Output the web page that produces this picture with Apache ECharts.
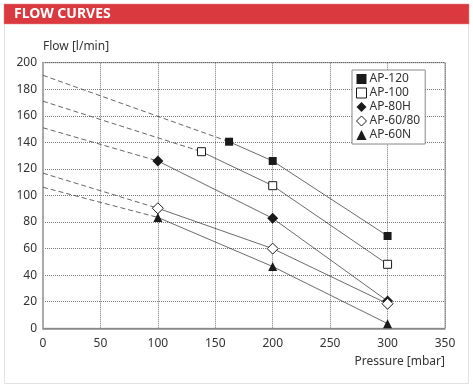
<!DOCTYPE html>
<html><head><meta charset="utf-8">
<script src="https://cdn.jsdelivr.net/npm/echarts@6/dist/echarts.min.js"></script>
<style>html,body{margin:0;padding:0;background:#fff}#c{width:473px;height:389px}</style>
</head><body><div id="c"></div>
<script>
var title = 'FLOW CURVES';
var seriesNames = ['AP-120', 'AP-100', 'AP-80H', 'AP-60/80', 'AP-60N'];
var xTicks = [0, 50, 100, 150, 200, 250, 300, 350];
var yTicks = [0, 20, 40, 60, 80, 100, 120, 140, 160, 180, 200];
// measured points [pressure, flow]
var ap120 = [[162, 140.5], [200, 126], [300, 69.5]];
var ap100 = [[138, 133], [200, 107.4], [300, 48.2]];
var ap80h = [[100, 126], [200, 82.8], [300, 20.5]];
var ap6080 = [[100, 90.4], [200, 60], [300, 18.5]];
var ap60n = [[100, 83.5], [200, 46.5], [300, 3.5]];
// dashed extrapolation start values at pressure 0
var dashStart = [190.5, 171, 151, 116.8, 106.2];

var symbols = ['rect', 'rect', 'diamond', 'diamond', 'triangle'];
var filled = [true, false, true, false, true];
var sizes = [8, 8, 11, 11, 9];
var solidData = [ap120, ap100, ap80h, ap6080, ap60n];

var font = 'Noto Sans';
var series = [];
seriesNames.forEach(function (n, i) {
  var d = solidData[i];
  series.push({
    name: n + ' ext', type: 'line', silent: true, symbol: 'none',
    data: [[0, dashStart[i]], d[0]],
    lineStyle: {color: '#555', width: 0.9, type: [5, 3]}, z: 1
  });
});
seriesNames.forEach(function (n, i) {
  series.push({
    name: n, type: 'line', data: solidData[i],
    symbol: symbols[i], symbolSize: sizes[i],
    itemStyle: {color: filled[i] ? '#1a1a1a' : '#fff', borderColor: '#1a1a1a', borderWidth: filled[i] ? 0 : 1},
    lineStyle: {color: '#444', width: 0.8}, z: 3
  });
});

var chart = echarts.init(document.getElementById('c'), null, {renderer: 'canvas'});
chart.setOption({
  animation: false,
  textStyle: {fontFamily: font},
  graphic: [
    {type: 'rect', shape: {x: 4.5, y: 4.5, width: 464, height: 379}, style: {fill: '#fff', stroke: '#e2e2e2', lineWidth: 1}, z: -10},
    {type: 'rect', shape: {x: 4, y: 4, width: 465, height: 20}, style: {fill: '#d9393f', stroke: '#e88a8e', lineWidth: 0.5}, z: -5},
    {type: 'text', left: 14, top: 7, style: {text: title, fill: '#fff', font: 'bold 14px "' + font + '"'}}
  ],
  grid: {left: 43, right: 28, top: 62.7, bottom: 60.7, show: true, borderColor: '#999', borderWidth: 1},
  legend: {
    data: seriesNames.map(function (n, i) {
      return {name: n, icon: symbols[i],
        itemStyle: {color: filled[i] ? '#1a1a1a' : '#fff', borderColor: '#1a1a1a', borderWidth: filled[i] ? 0 : 1}};
    }),
    orient: 'vertical', left: 352, top: 70, padding: [3, 5, 3, 4], itemGap: 2,
    itemWidth: 10, itemHeight: 10, backgroundColor: '#fff', borderColor: '#888', borderWidth: 1,
    textStyle: {fontSize: 12, color: '#333', fontFamily: font, padding: [0, 0, 0, -2]}
  },
  xAxis: {
    type: 'value', min: 0, max: 350, interval: 50,
    name: 'Pressure [mbar]', nameLocation: 'end', nameGap: 0,
    nameTextStyle: {align: 'right', verticalAlign: 'top', padding: [27, 0, 0, 0], fontSize: 12, color: '#333'},
    axisLine: {show: true, lineStyle: {color: '#888', width: 1.5}},
    axisTick: {show: false},
    axisLabel: {fontSize: 12, color: '#333', margin: 9, formatter: function (v) { return xTicks.indexOf(v) >= 0 ? v : ''; }},
    splitLine: {show: true, lineStyle: {color: '#555', width: 0.8, type: [1, 1]}}
  },
  yAxis: {
    type: 'value', min: 0, max: 200, interval: 20,
    name: 'Flow [l/min]', nameLocation: 'end', nameGap: 10,
    nameTextStyle: {align: 'left', fontSize: 12, color: '#333'},
    axisLine: {show: true, lineStyle: {color: '#aaa', width: 2}},
    axisTick: {show: false},
    axisLabel: {fontSize: 12, color: '#333', margin: 6, formatter: function (v) { return yTicks.indexOf(v) >= 0 ? v : ''; }},
    splitLine: {show: true, lineStyle: {color: '#555', width: 0.8, type: [1, 1]}}
  },
  series: series
});
</script></body></html>
